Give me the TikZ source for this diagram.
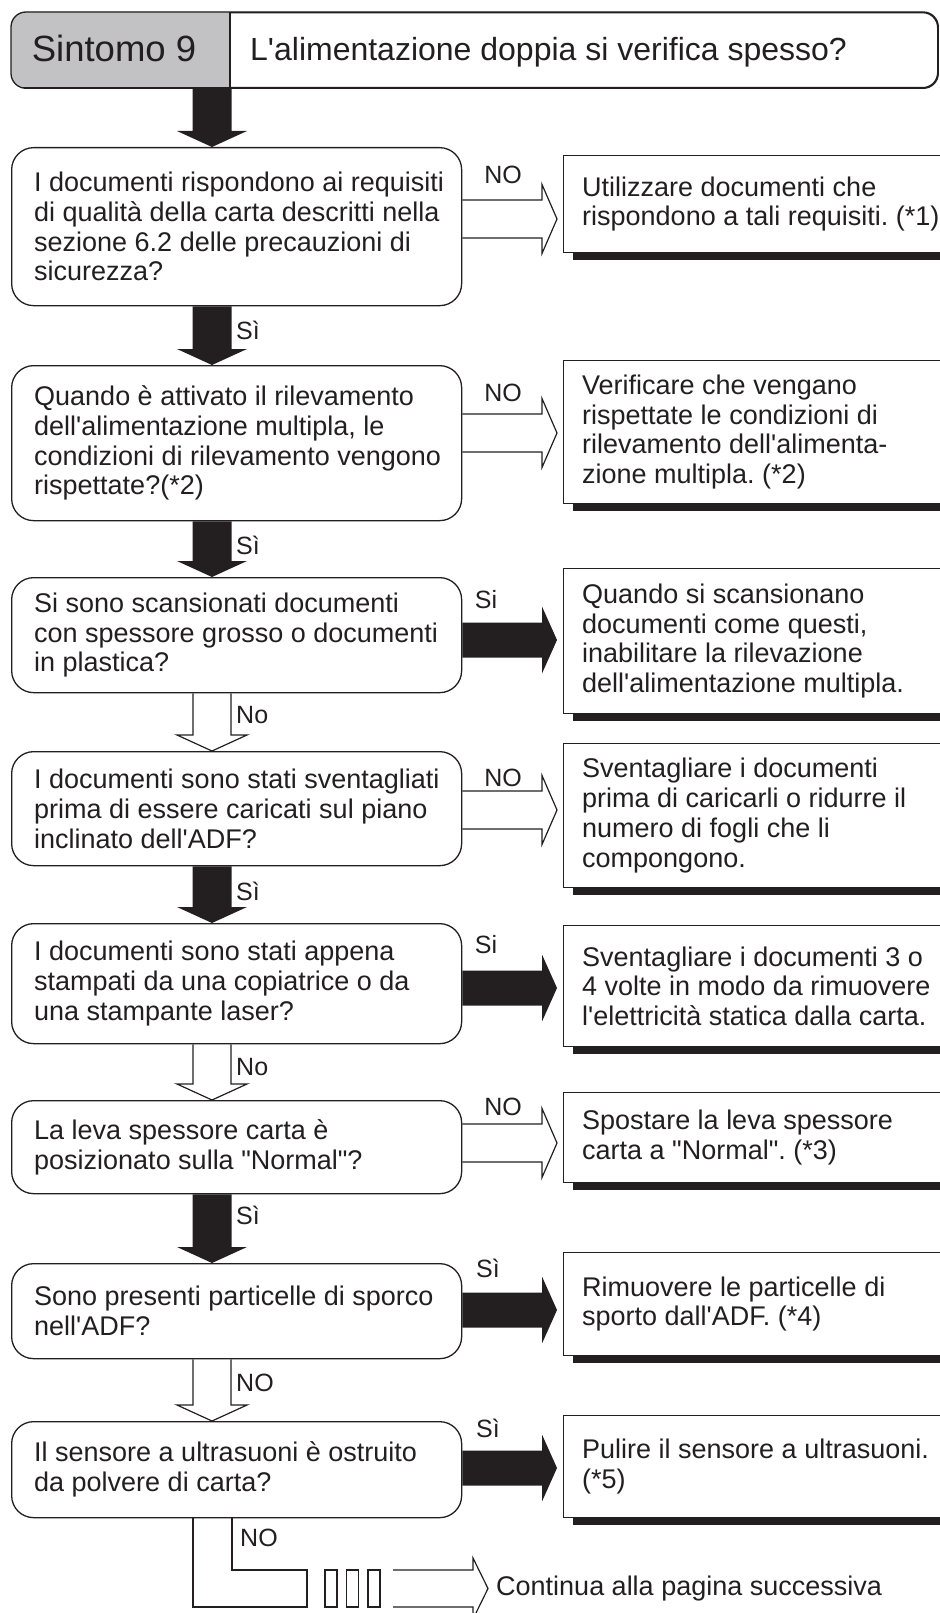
\documentclass[tikz,border=0pt]{standalone}
\usepackage{fontspec}
\newfontfamily\hv{Liberation Sans}
\usetikzlibrary{calc,shadows}
\definecolor{ink}{HTML}{231F20}
\definecolor{hdrgray}{HTML}{C2C2C4}
\frenchspacing
\newcommand\bodyf{\hv\fontsize{27pt}{29.7pt}\selectfont}
\newcommand\lblf{\hv\fontsize{25pt}{28pt}\selectfont}
\newcommand\hdrf{\hv\fontsize{32pt}{36pt}\selectfont}
\newcommand\hdrbigf{\hv\fontsize{36.5pt}{40pt}\selectfont}

% black block arrow pointing down, centred on x = #3
\newcommand\vblack[3]{%
  \fill[ink] let \p1=(#1), \p2=(#2), \p3=(#3,0) in
    (\x3-19.5pt,\y1) -- (\x3+19.5pt,\y1) -- (\x3+19.5pt,\y2+16pt)
    -- (\x3+35pt,\y2+16pt) -- (\x3,\y2) -- (\x3-35pt,\y2+16pt)
    -- (\x3-19.5pt,\y2+16pt) -- cycle;}
% outlined block arrow pointing down
\newcommand\vwhite[3]{%
  \draw[hollow] let \p1=(#1), \p2=(#2), \p3=(#3,0) in
    (\x3-19pt,\y1) -- (\x3-19pt,\y2+16pt) -- (\x3-35pt,\y2+16pt)
    -- (\x3,\y2) -- (\x3+35pt,\y2+16pt) -- (\x3+19pt,\y2+16pt) -- (\x3+19pt,\y1);}
% black block arrow pointing right, at height #3
\newcommand\hblack[3]{%
  \fill[ink] let \p1=(#1.east), \p2=(#2.west), \p3=(0,#3) in
    (\x1,\y3+17.5pt) -- (\x2-21pt,\y3+17.5pt) -- (\x2-21pt,\y3+33.5pt)
    -- (\x2-6pt,\y3) -- (\x2-21pt,\y3-33.5pt) -- (\x2-21pt,\y3-17.5pt)
    -- (\x1,\y3-17.5pt) -- cycle;}
% outlined block arrow pointing right
\newcommand\hwhite[3]{%
  \draw[hollow] let \p1=(#1.east), \p2=(#2.west), \p3=(0,#3) in
    (\x1,\y3+19pt) -- (\x2-21pt,\y3+19pt) -- (\x2-21pt,\y3+34.5pt)
    -- (\x2-6pt,\y3) -- (\x2-21pt,\y3-34.5pt) -- (\x2-21pt,\y3-19pt)
    -- (\x1,\y3-19pt);}

\tikzset{
  qbox/.style={draw=ink, line width=1.3pt, rounded corners=22pt, fill=white,
    minimum width=450pt, inner sep=0pt, anchor=north west},
  abox/.style={draw=ink, line width=1.1pt, fill=white,
    minimum width=378pt, inner sep=0pt, anchor=north west,
    drop shadow={shadow xshift=9pt, shadow yshift=-7.5pt, opacity=1, fill=ink}},
  qtext/.style={anchor=west, align=left, inner sep=0pt, text=ink, font=\bodyf},
  lbl/.style={inner sep=0pt, text=ink, font=\lblf},
  hollow/.style={draw=ink, line width=1.2pt, line join=miter},
}

\begin{document}
\begin{tikzpicture}[x=1pt, y=-1pt]
\useasboundingbox (0,0) rectangle (939,1613);

% heading bar
\node[draw=ink, line width=1.3pt, rounded corners=15pt, minimum width=926pt,
  minimum height=75pt, inner sep=0pt, anchor=north west] (hdr) at (11,12) {};
\begin{scope}
  \clip[rounded corners=15pt] (hdr.north west) rectangle (hdr.south east);
  \fill[hdrgray] (hdr.north west) rectangle (230,87);
\end{scope}
\draw[ink, line width=1.3pt, rounded corners=15pt] (hdr.north west) rectangle (hdr.south east);
\draw[ink, line width=1.1pt] (230,12) -- (230,87);
\node[lbl, font=\hdrbigf, anchor=base] (hdrnum) at (114,62) {Sintomo 9};
\node[lbl, font=\hdrf, anchor=base west] (hdrtitle) at (250,61) {L'alimentazione doppia si verifica spesso?};

% question boxes
\node[qbox, minimum height=158pt] (q1) at (11,147) {};
\node[qbox, minimum height=155pt] (q2) at (11,365) {};
\node[qbox, minimum height=115pt] (q3) at (11,577) {};
\node[qbox, minimum height=114pt] (q4) at (11,751) {};
\node[qbox, minimum height=120pt] (q5) at (11,923) {};
\node[qbox, minimum height=93pt]  (q6) at (11,1100) {};
\node[qbox, minimum height=95pt]  (q7) at (11,1263) {};
\node[qbox, minimum height=96pt]  (q8) at (11,1421) {};

\node[qtext] (q1t) at ($(q1.west)+(23,0)$) {I documenti rispondono ai requisiti\\di qualità della carta descritti nella\\sezione 6.2 delle precauzioni di\\sicurezza?};
\node[qtext] (q2t) at ($(q2.west)+(23,0)$) {Quando è attivato il rilevamento\\dell'alimentazione multipla, le\\condizioni di rilevamento vengono\\rispettate?(*2)};
\node[qtext] (q3t) at ($(q3.west)+(23,0)$) {Si sono scansionati documenti\\con spessore grosso o documenti\\in plastica?};
\node[qtext] (q4t) at ($(q4.west)+(23,0)$) {I documenti sono stati sventagliati\\prima di essere caricati sul piano\\inclinato dell'ADF?};
\node[qtext] (q5t) at ($(q5.west)+(23,0)$) {I documenti sono stati appena\\stampati da una copiatrice o da\\una stampante laser?};
\node[qtext] (q6t) at ($(q6.west)+(23,0)$) {La leva spessore carta è\\posizionato sulla "Normal"?};
\node[qtext] (q7t) at ($(q7.west)+(23,0)$) {Sono presenti particelle di sporco\\nell'ADF?};
\node[qtext] (q8t) at ($(q8.west)+(23,0)$) {Il sensore a ultrasuoni è ostruito\\da polvere di carta?};

% answer boxes
\node[abox, minimum height=97pt]  (a1) at (563,155) {};
\node[abox, minimum height=143pt] (a2) at (563,360) {};
\node[abox, minimum height=145pt] (a3) at (563,568) {};
\node[abox, minimum height=144pt] (a4) at (563,743) {};
\node[abox, minimum height=121pt] (a5) at (563,925) {};
\node[abox, minimum height=90pt]  (a6) at (563,1092) {};
\node[abox, minimum height=103pt] (a7) at (563,1252) {};
\node[abox, minimum height=102pt] (a8) at (563,1415) {};

\node[qtext] (a1t) at ($(a1.west)+(19,0)$) {Utilizzare documenti che\\rispondono a tali requisiti. (*1)};
\node[qtext] (a2t) at ($(a2.west)+(19,0)$) {Verificare che vengano\\rispettate le condizioni di\\rilevamento dell'alimenta-\\zione multipla. (*2)};
\node[qtext] (a3t) at ($(a3.west)+(19,0)$) {Quando si scansionano\\documenti come questi,\\inabilitare la rilevazione\\dell'alimentazione multipla.};
\node[qtext] (a4t) at ($(a4.west)+(19,0)$) {Sventagliare i documenti\\prima di caricarli o ridurre il\\numero di fogli che li\\compongono.};
\node[qtext] (a5t) at ($(a5.west)+(19,0)$) {Sventagliare i documenti 3 o\\4 volte in modo da rimuovere\\l'elettricità statica dalla carta.};
\node[qtext] (a6t) at ($(a6.west)+(19,0)$) {Spostare la leva spessore\\carta a "Normal". (*3)};
\node[qtext] (a7t) at ($(a7.west)+(19,0)$) {Rimuovere le particelle di\\sporto dall'ADF. (*4)};
\node[qtext] (a8t) at ($(a8.west)+(19,0)$) {Pulire il sensore a ultrasuoni.\\(*5)};

% downward connectors
\vblack{hdr.south}{q1.north}{212}
\vblack{q1.south}{q2.north}{212}
\vblack{q2.south}{q3.north}{212}
\vwhite{q3.south}{q4.north}{212}
\vblack{q4.south}{q5.north}{212}
\vwhite{q5.south}{q6.north}{212}
\vblack{q6.south}{q7.north}{212}
\vwhite{q7.south}{q8.north}{212}

\node[lbl, anchor=west] (l12) at (236,330) {Sì};
\node[lbl, anchor=west] (l23) at (236,545) {Sì};
\node[lbl, anchor=west] (l34) at (236,715) {No};
\node[lbl, anchor=west] (l45) at (236,891) {Sì};
\node[lbl, anchor=west] (l56) at (236,1067) {No};
\node[lbl, anchor=west] (l67) at (236,1215) {Sì};
\node[lbl, anchor=west] (l78) at (236,1383) {NO};

% rightward connectors
\hwhite{q1}{a1}{219}
\hwhite{q2}{a2}{433}
\hblack{q3}{a3}{640}
\hwhite{q4}{a4}{810}
\hblack{q5}{a5}{988}
\hwhite{q6}{a6}{1143}
\hblack{q7}{a7}{1310}
\hblack{q8}{a8}{1468}

\node[lbl] (r1) at (503,175) {NO};
\node[lbl] (r2) at (503,393) {NO};
\node[lbl] (r3) at (486,600) {Si};
\node[lbl] (r4) at (503,778) {NO};
\node[lbl] (r5) at (486,945) {Si};
\node[lbl] (r6) at (503,1107) {NO};
\node[lbl] (r7) at (488,1268) {Sì};
\node[lbl] (r8) at (488,1428) {Sì};

% continuation to the next page
\coordinate (cont) at (488,1588.5);
\draw[hollow] let \p1=(q8.south) in
  (232,\y1) -- (232,1570) -- (307,1570) -- (307,1607) -- (193,1607) -- (193,\y1);
\draw[hollow] (325,1570) rectangle (337,1607);
\draw[hollow] (346.5,1570) rectangle (358.5,1607);
\draw[hollow] (368,1570) rectangle (380,1607);
\draw[hollow] (393,1570) -- (473,1570) -- (473,1558) -- (cont)
  -- (473,1619) -- (473,1607) -- (393,1607);
\node[lbl, anchor=west] (l8) at (240,1538) {NO};
\node[qtext, anchor=west] (contt) at ($(cont)+(8,0)$) {Continua alla pagina successiva};
\end{tikzpicture}
\end{document}
